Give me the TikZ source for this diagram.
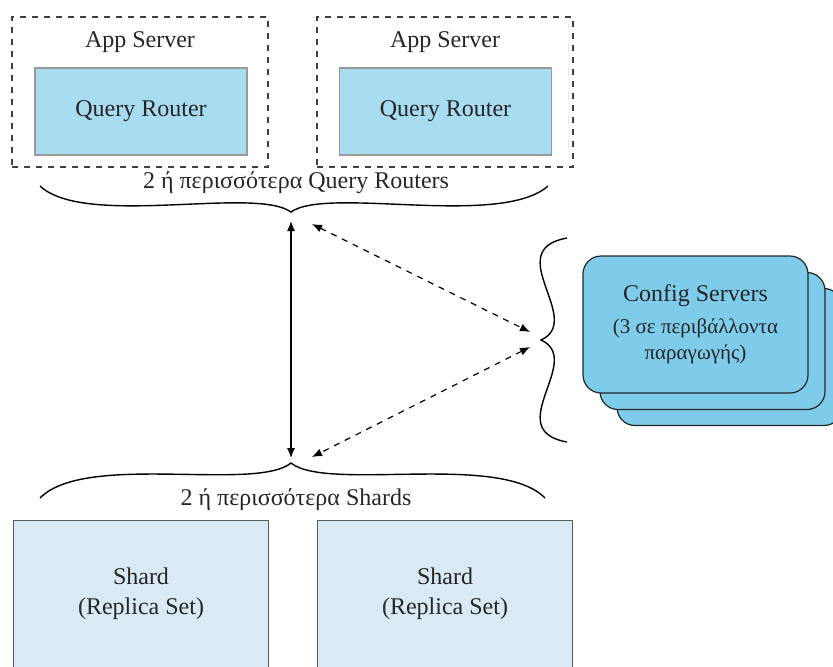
\documentclass[tikz,border=0pt]{standalone}
\usepackage{fontspec}
\setmainfont{Liberation Serif}
\usetikzlibrary{arrows.meta,positioning}
\tikzset{>/.tip={Latex[length=5pt,width=4pt]}}
\tikzset{appbox/.style={draw=black!75,dashed,line width=0.6pt,minimum width=128pt,minimum height=75pt}}
\tikzset{qrbox/.style={draw=black!40,fill=qrblue,line width=0.6pt,minimum width=106pt,minimum height=43.5pt}}
\tikzset{shardbox/.style={draw=black!65,fill=shardblue,line width=0.6pt,minimum width=127.5pt,minimum height=100pt,anchor=north west}}
\tikzset{cfgbox/.style={draw=black!85,fill=cfgblue,rounded corners=9pt,line width=0.6pt,minimum width=112.5pt,minimum height=68.5pt}}
\tikzset{brc/.style={line width=0.7pt}}
\definecolor{qrblue}{HTML}{A8DCF0}
\definecolor{cfgblue}{HTML}{7FCBEA}
\definecolor{shardblue}{HTML}{DAEAF5}
\newcommand\smallgr{\fontsize{10.5}{13}\selectfont}

\begin{document}
\begin{tikzpicture}[x=0.5pt,y=-0.5pt,font=\fontsize{12}{15}\selectfont,text=black!85]
        \useasboundingbox (0,0) rectangle (833,666);
        % app servers
        \node(app1)[appbox] at (140,92){};
        \node(app2)[appbox] at (445,92){};
        \node(app1lbl) at (140,42){App Server};
        \node(app2lbl) at (445,42){App Server};
        \node(qr1)[qrbox] at (141,111.5){Query Router};
        \node(qr2)[qrbox] at (445.5,111.5){Query Router};
        \node(qrtxt) at (296,183){2 ή περισσότερα Query Routers};
        \coordinate(qbrc) at (291,212);
        \draw[brc] (40,186) .. controls (85,228) and (255,186) .. (qbrc)
          .. controls (327,186) and (500,228) .. (548,186);
        % config servers
        \node(cfg3)[cfgbox] at (729.5,357){};
        \node(cfg2)[cfgbox] at (712.5,341){};
        \node(cfg1)[cfgbox] at (695.5,324.5){};
        \node(cfg1lbl) at (695.5,296){Config Servers};
        \node(cfg1sub)[align=center,font=\smallgr] at (695.5,341){(3 σε περιβάλλοντα\\παραγωγής)};
        \coordinate(cbrc) at (541,340);
        \draw[brc] (567,238) .. controls (500,250) and (585,320) .. (cbrc)
          .. controls (585,360) and (500,430) .. (567,442);
        % shards
        \node(shtxt) at (296,500){2 ή περισσότερα Shards};
        \coordinate(sbrc) at (291,463);
        \draw[brc] (40,498) .. controls (85,452) and (255,492) .. (sbrc)
          .. controls (327,492) and (500,452) .. (545,498);
        \node(sh1)[shardbox] at (13,520){};
        \node(sh2)[shardbox] at (317,520){};
        \node(sh1lbl)[align=center] at (141,594){Shard\\(Replica Set)};
        \node(sh2lbl)[align=center] at (445,594){Shard\\(Replica Set)};
        % arrows
        \coordinate(qtop) at (291,221);
        \coordinate(sbot) at (291,458);
        \coordinate(qside) at (312,224);
        \coordinate(sside) at (312,457);
        \coordinate(cup) at (530,332);
        \coordinate(cdown) at (530,347);
        \draw[<->,line width=0.6pt] (qtop) -- (sbot);
        \draw[<->,dashed,line width=0.6pt] (qside) -- (cup);
        \draw[<->,dashed,line width=0.6pt] (cdown) -- (sside);
      \end{tikzpicture}
\end{document}
